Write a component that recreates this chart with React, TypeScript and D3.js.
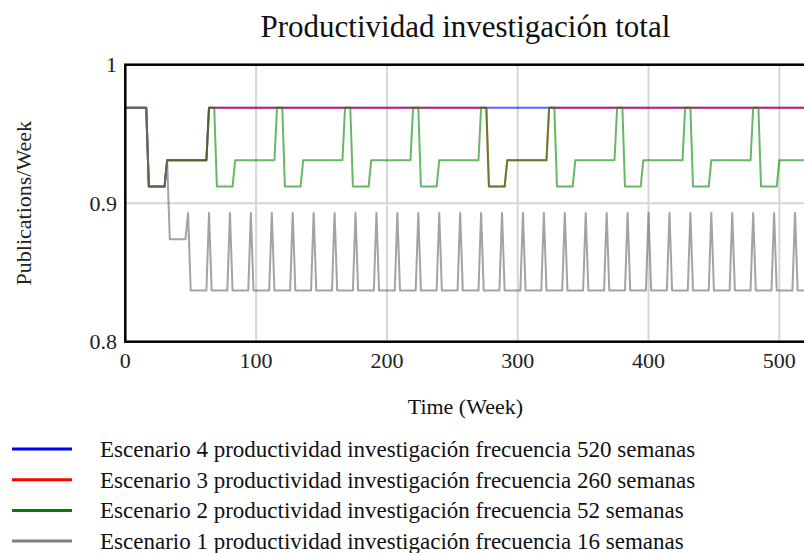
import React from "react";
import * as d3 from "d3";

// ---- Data (week, publications/week) ----
const escenario4: [number, number][] = [
  [0, 0.969], [16, 0.969], [18, 0.912], [30, 0.912], [32, 0.931], [62, 0.931], [64, 0.969], [520, 0.969],
];

const escenario3: [number, number][] = [
  [0, 0.969], [16, 0.969], [18, 0.912], [30, 0.912], [32, 0.931], [62, 0.931], [64, 0.969],
  [272, 0.969], [276, 0.969], [278, 0.912], [290, 0.912], [292, 0.931], [322, 0.931], [324, 0.969],
  [520, 0.969],
];

const escenario2: [number, number][] = [
  [0, 0.969], [16, 0.969], [18, 0.912], [30, 0.912], [32, 0.931],
  [62, 0.931], [64, 0.969], [68, 0.969], [70, 0.912], [82, 0.912], [84, 0.931],
  [114, 0.931], [116, 0.969], [120, 0.969], [122, 0.912], [134, 0.912], [136, 0.931],
  [166, 0.931], [168, 0.969], [172, 0.969], [174, 0.912], [186, 0.912], [188, 0.931],
  [218, 0.931], [220, 0.969], [224, 0.969], [226, 0.912], [238, 0.912], [240, 0.931],
  [270, 0.931], [272, 0.969], [276, 0.969], [278, 0.912], [290, 0.912], [292, 0.931],
  [322, 0.931], [324, 0.969], [328, 0.969], [330, 0.912], [342, 0.912], [344, 0.931],
  [374, 0.931], [376, 0.969], [380, 0.969], [382, 0.912], [394, 0.912], [396, 0.931],
  [426, 0.931], [428, 0.969], [432, 0.969], [434, 0.912], [446, 0.912], [448, 0.931],
  [478, 0.931], [480, 0.969], [484, 0.969], [486, 0.912], [498, 0.912], [500, 0.931],
  [520, 0.931],
];

const escenario1: [number, number][] = [
  [0, 0.969], [16, 0.969], [18, 0.912], [30, 0.912], [32, 0.931], [34, 0.874], [46, 0.874], [48, 0.893], [50, 0.837],
  [62, 0.837], [64, 0.893], [66, 0.837],
  [78, 0.837], [80, 0.893], [82, 0.837],
  [94, 0.837], [96, 0.893], [98, 0.837],
  [110, 0.837], [112, 0.893], [114, 0.837],
  [126, 0.837], [128, 0.893], [130, 0.837],
  [142, 0.837], [144, 0.893], [146, 0.837],
  [158, 0.837], [160, 0.893], [162, 0.837],
  [174, 0.837], [176, 0.893], [178, 0.837],
  [190, 0.837], [192, 0.893], [194, 0.837],
  [206, 0.837], [208, 0.893], [210, 0.837],
  [222, 0.837], [224, 0.893], [226, 0.837],
  [238, 0.837], [240, 0.893], [242, 0.837],
  [254, 0.837], [256, 0.893], [258, 0.837],
  [270, 0.837], [272, 0.893], [274, 0.837],
  [286, 0.837], [288, 0.893], [290, 0.837],
  [302, 0.837], [304, 0.893], [306, 0.837],
  [318, 0.837], [320, 0.893], [322, 0.837],
  [334, 0.837], [336, 0.893], [338, 0.837],
  [350, 0.837], [352, 0.893], [354, 0.837],
  [366, 0.837], [368, 0.893], [370, 0.837],
  [382, 0.837], [384, 0.893], [386, 0.837],
  [398, 0.837], [400, 0.893], [402, 0.837],
  [414, 0.837], [416, 0.893], [418, 0.837],
  [430, 0.837], [432, 0.893], [434, 0.837],
  [446, 0.837], [448, 0.893], [450, 0.837],
  [462, 0.837], [464, 0.893], [466, 0.837],
  [478, 0.837], [480, 0.893], [482, 0.837],
  [494, 0.837], [496, 0.893], [498, 0.837],
  [510, 0.837], [512, 0.893], [514, 0.837],
  [520, 0.837],
];

const seriesNames = [
  "Escenario 4 productividad investigación frecuencia 520 semanas",
  "Escenario 3 productividad investigación frecuencia 260 semanas",
  "Escenario 2 productividad investigación frecuencia 52 semanas",
  "Escenario 1 productividad investigación frecuencia 16 semanas",
];
const seriesData = [escenario4, escenario3, escenario2, escenario1];
const seriesColors = ["#0000ff", "#ff0000", "#008000", "#808080"];
const plotColors = ["#0000ff", "#ff0000", "#0a8a0a", "#6a6a6a"];

const xTicks = [0, 100, 200, 300, 400, 500];
const yTicks = [0.8, 0.9, 1];
const yTickLabels = ["0.8", "0.9", "1"];

const title = "Productividad investigación total";
const xLabel = "Time (Week)";
const yLabel = "Publications/Week";

const FONT = '"Liberation Serif", "Times New Roman", Times, "DejaVu Serif", serif';

export default function App() {
  const W = 804;
  const H = 553;
  const x = d3.scaleLinear().domain([0, 520]).range([125.3, 805.5]);
  const y = d3.scaleLinear().domain([0.8, 1]).range([341.7, 64.7]);
  const line = d3
    .line<[number, number]>()
    .x((d) => x(d[0]))
    .y((d) => y(d[1]));

  const x0 = x(0);
  const x1 = x(520);
  const yTop = y(1);
  const yBot = y(0.8);
  const tf = { fontFamily: FONT };

  return (
    <svg
      width={W}
      height={H}
      style={{ position: "absolute", left: 0, top: 0, background: "#fff", overflow: "hidden", fontFamily: FONT }}
    >
      <rect x={0} y={0} width={W} height={H} fill="#fff" />
      {/* title */}
      <text x={(x0 + x1) / 2} y={36.7} textAnchor="middle" fontSize={31} fill="#111" style={tf}>
        {title}
      </text>

      {/* grid */}
      {xTicks
        .filter((t) => t > 0)
        .map((t) => (
          <line key={"gx" + t} x1={x(t)} x2={x(t)} y1={yTop} y2={yBot} stroke="#d6d6d6" strokeWidth={2} />
        ))}
      {yTicks
        .filter((t) => t > 0.8 && t < 1)
        .map((t) => (
          <line key={"gy" + t} x1={x0} x2={x1} y1={y(t)} y2={y(t)} stroke="#d6d6d6" strokeWidth={2} />
        ))}

      {/* series */}
      {seriesData.map((d, i) => (
        <path
          key={"s" + i}
          d={line(d) || ""}
          fill="none"
          stroke={plotColors[i]}
          strokeWidth={2}
          strokeOpacity={0.62}
          strokeLinejoin="round"
        />
      ))}

      {/* frame */}
      <rect x={x0} y={yTop} width={x1 - x0} height={yBot - yTop} fill="none" stroke="#000" strokeWidth={2.5} />

      {/* y ticks */}
      {yTicks.map((t, i) => (
        <text key={"yt" + t} x={117} y={y(t) + 7.5} textAnchor="end" fontSize={22} fill="#222" style={tf}>
          {yTickLabels[i]}
        </text>
      ))}
      {/* x ticks */}
      {xTicks.map((t) => (
        <text key={"xt" + t} x={x(t)} y={368} textAnchor="middle" fontSize={22} fill="#222" style={tf}>
          {t}
        </text>
      ))}

      {/* axis labels */}
      <text x={(x0 + x1) / 2} y={414} textAnchor="middle" fontSize={22} fill="#111" style={tf}>
        {xLabel}
      </text>
      <text
        transform={`translate(31, ${(yTop + yBot) / 2}) rotate(-90)`}
        textAnchor="middle"
        fontSize={22}
        fill="#222"
        style={tf}
      >
        {yLabel}
      </text>

      {/* legend */}
      {seriesNames.map((name, i) => {
        const ly = 449 + i * 30.7;
        return (
          <g key={"lg" + i}>
            <line x1={12} x2={72} y1={ly} y2={ly} stroke={seriesColors[i]} strokeWidth={3} />
            <text x={100} y={ly + 8} fontSize={23} fill="#111" style={tf}>
              {name}
            </text>
          </g>
        );
      })}
    </svg>
  );
}
